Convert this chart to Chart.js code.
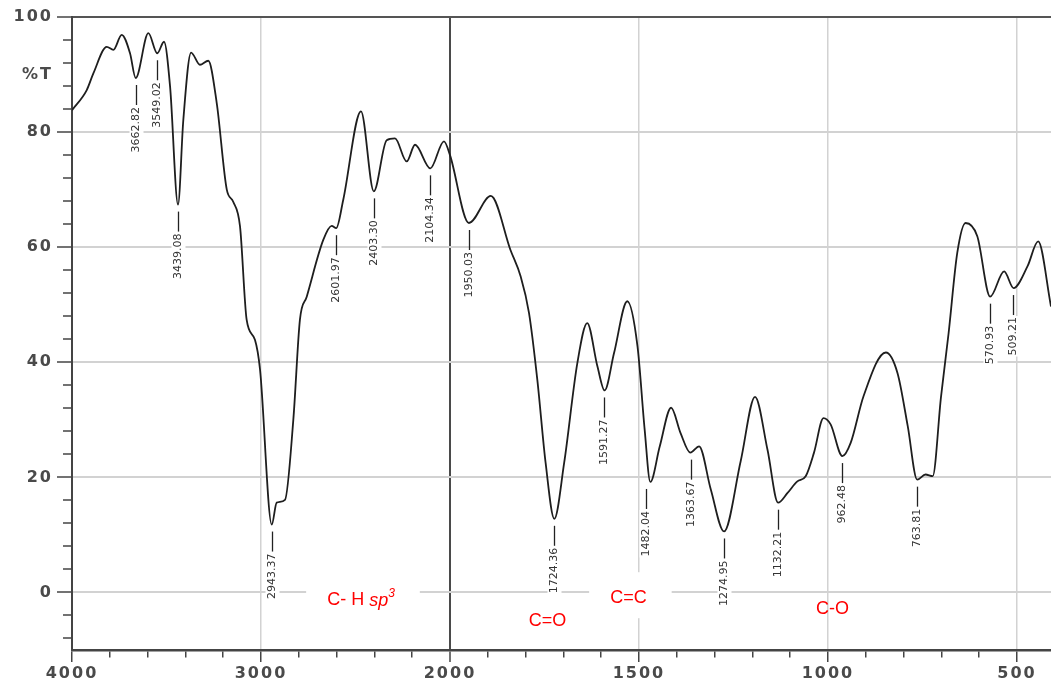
<!DOCTYPE html>
<html>
<head>
<meta charset="utf-8">
<script src="https://cdn.jsdelivr.net/npm/chart.js@4.4.1/dist/chart.umd.min.js"></script>
<style>
  html, body { margin: 0; padding: 0; background: #fff; }
  #wadah { width: 1051px; height: 688px; position: relative; }
</style>
</head>
<body>
<div id="wadah"><canvas id="chartIR"></canvas></div>
<script>
// data spektrum IR (bilangan gelombang cm-1 vs %T)
const bilanganGelombang = [
  4000, 3922, 3887, 3816, 3781, 3737, 3693, 3663, 3596, 3549, 3513, 3481, 3439, 3411,
  3370, 3323, 3279, 3234, 3181, 3147, 3111, 3076, 3032, 3005, 2943, 2917, 2873, 2829,
  2794, 2758, 2670, 2626, 2602, 2565, 2471, 2403, 2335, 2291, 2229, 2185, 2104, 2032,
  2000, 1950, 1892, 1840, 1813, 1791, 1769, 1747, 1724, 1698, 1663, 1637, 1610, 1591,
  1566, 1531, 1504, 1485, 1470, 1445, 1415, 1390, 1364, 1341, 1310, 1275, 1231, 1193,
  1160, 1132, 1107, 1081, 1059, 1037, 1012, 993, 962, 940, 906, 847, 816, 789, 764,
  742, 723, 701, 681, 658, 636, 605, 571, 534, 509, 472, 444, 410
];
const transmitansi = [
  83.8, 87.3, 90.2, 94.8, 94.3, 96.9, 93.7, 89.4, 97.2, 93.7, 95.7, 87.9, 67.4, 82.1,
  93.8, 91.7, 92.4, 85.0, 70.0, 67.9, 63.6, 47.4, 43.9, 38.7, 11.8, 15.6, 16.1, 30.0,
  47.4, 51.4, 61.3, 63.7, 63.3, 68.2, 83.6, 69.7, 78.6, 78.9, 74.9, 77.8, 73.7, 78.4,
  76.0, 64.2, 68.9, 59.5, 54.9, 48.6, 37.0, 22.5, 12.8, 22.5, 39.9, 46.8, 39.3, 35.1,
  41.6, 50.6, 42.8, 28.3, 19.2, 25.4, 32.1, 27.7, 24.3, 25.4, 17.9, 10.6, 22.8, 34.0,
  24.8, 15.6, 17.3, 19.3, 20.2, 24.3, 30.3, 29.2, 23.7, 26.0, 34.1, 41.7, 38.1, 28.9, 19.6,
  20.5, 20.2, 34.0, 45.0, 59.0, 64.2, 61.9, 51.4, 55.8, 52.9, 56.7, 61.0, 49.7
];

// label puncak serapan
const puncakGelombang = [
  3662.82, 3549.02, 3439.08, 2943.37, 2601.97, 2403.30, 2104.34, 1950.03, 1724.36,
  1591.27, 1482.04, 1363.67, 1274.95, 1132.21, 962.48, 763.81, 570.93, 509.21
];
const puncakT = [
  89.4, 93.7, 67.4, 11.8, 63.3, 69.7, 73.7, 64.2, 12.8,
  35.1, 19.2, 24.3, 10.6, 15.6, 23.7, 19.6, 51.4, 52.9
];

// tick sumbu
const tickUtamaX = [4000, 3000, 2000, 1500, 1000, 500];
const tickUtamaY = [0, 20, 40, 60, 80, 100];

// gugus fungsi (teks merah)
const labelGugus = ['C- H sp3', 'C=O', 'C=C', 'C-O'];
const gelombangGugus = [2471, 1742, 1528, 988];
const tinggiGugus = [-1.4, -5.0, -1.0, -2.8];

// skala x patah di 2000: kiri 1000 cm-1 per satuan, kanan 500 cm-1 per satuan
function keSumbu(w) {
  return w >= 2000 ? (4000 - w) / 1000 : 2 + (2000 - w) / 500;
}
function dariSumbu(u) {
  return Math.round(u <= 2 ? 4000 - u * 1000 : 2000 - (u - 2) * 500);
}

document.addEventListener('DOMContentLoaded', () => {
  if (typeof Chart === 'undefined') return;

  const warnaGaris = '#1e1e1e';
  const warnaSumbu = '#444';
  const warnaGrid = '#d2d2d2';

  // semua tick x (utama + kecil)
  const daftarTickX = tickUtamaX.slice();
  for (let w = 3800; w > 2000; w -= 200) if (w !== 3000) daftarTickX.push(w);
  for (let w = 1900; w > 410; w -= 100) if (w % 500 !== 0) daftarTickX.push(w);

  // semua tick y tiap 4, plus 90 buat tulisan %T
  const daftarTickY = [90];
  for (let v = -8; v <= 100; v += 4) daftarTickY.push(v);

  const titik = bilanganGelombang.map((w, i) => ({ x: keSumbu(w), y: transmitansi[i] }));

  // huruf angka sumbu dibikin agak renggang biar mirip aslinya
  const pluginRenggang = {
    id: 'renggang',
    beforeDraw(chart) { chart.ctx.letterSpacing = '2px'; },
    beforeDatasetsDraw(chart) { chart.ctx.letterSpacing = '0px'; }
  };

  const pluginLabel = {
    id: 'labelPuncak',
    afterDatasetsDraw(chart) {
      const { ctx, scales: { x, y } } = chart;
      ctx.save();

      // label angka puncak, diputar vertikal
      ctx.font = "11px 'DejaVu Sans'";
      ctx.textBaseline = 'middle';
      ctx.textAlign = 'right';
      puncakGelombang.forEach((w, i) => {
        const px = Math.round(x.getPixelForValue(keSumbu(w))) + 0.5;
        const py = y.getPixelForValue(puncakT[i]);
        ctx.strokeStyle = '#222';
        ctx.lineWidth = 1.3;
        ctx.beginPath();
        ctx.moveTo(px, py + 7);
        ctx.lineTo(px, py + 27);
        ctx.stroke();

        const teks = w.toFixed(2);
        const lebar = ctx.measureText(teks).width;
        ctx.save();
        ctx.translate(px, py + 29);
        ctx.rotate(-Math.PI / 2);
        ctx.fillStyle = '#fff';
        ctx.fillRect(-lebar - 1, -7, lebar + 2, 14);
        ctx.fillStyle = '#333';
        ctx.fillText(teks, 0, 0);
        ctx.restore();
      });

      // teks gugus fungsi warna merah
      ctx.textAlign = 'left';
      labelGugus.forEach((lbl, i) => {
        const cx = x.getPixelForValue(keSumbu(gelombangGugus[i]));
        const cy = y.getPixelForValue(tinggiGugus[i]);
        let bagian = [{ t: lbl, f: "18px 'Liberation Sans'", dy: 0 }];
        if (lbl.endsWith('sp3')) {
          bagian = [
            { t: lbl.slice(0, -3), f: "18px 'Liberation Sans'", dy: 0 },
            { t: 'sp', f: "italic 18px 'Liberation Sans'", dy: 0 },
            { t: '3', f: "italic 12px 'Liberation Sans'", dy: -7 }
          ];
        }
        let total = 0;
        bagian.forEach(b => { ctx.font = b.f; b.w = ctx.measureText(b.t).width; total += b.w; });
        // kotak putih nutup grid (cuma buat C-H sama C=C)
        if (i === 0 || i === 2) {
          ctx.fillStyle = '#fff';
          ctx.fillRect(cx - total / 2 - 21, cy - 26, total + 46, 46);
        }
        let posX = cx - total / 2;
        ctx.fillStyle = '#ff0000';
        bagian.forEach(b => {
          ctx.font = b.f;
          ctx.fillText(b.t, posX, cy + b.dy);
          posX += b.w;
        });
      });
      ctx.restore();
    }
  };

  const konteks = document.getElementById('chartIR').getContext('2d');
  new Chart(konteks, {
    type: 'line',
    data: {
      datasets: [{
        data: titik,
        borderColor: warnaGaris,
        borderWidth: 1.8,
        pointRadius: 0,
        cubicInterpolationMode: 'monotone',
        fill: false
      }]
    },
    options: {
      responsive: true,
      maintainAspectRatio: false,
      animation: false,
      layout: { padding: { top: 17, right: 0, bottom: 0, left: 0 } },
      plugins: { legend: { display: false }, tooltip: { enabled: false } },
      scales: {
        x: {
          type: 'linear',
          min: 0,
          max: keSumbu(410),
          afterBuildTicks: skala => {
            skala.ticks = daftarTickX.map(w => ({ value: keSumbu(w) })).sort((a, b) => a.value - b.value);
          },
          afterFit: skala => { skala.height = 38; },
          ticks: {
            autoSkip: false,
            maxRotation: 0,
            minRotation: 0,
            padding: 2,
            color: '#4a4a4a',
            font: { family: "'DejaVu Sans'", size: 16, weight: 'bold' },
            callback: nilai => {
              const w = dariSumbu(nilai);
              return tickUtamaX.includes(w) ? String(w) : '';
            }
          },
          grid: {
            color: c => {
              if (!c.tick) return 'transparent';
              const w = dariSumbu(c.tick.value);
              if (w === 2000) return '#4a4a4a';
              if (w === 4000) return 'transparent';
              return tickUtamaX.includes(w) ? warnaGrid : 'transparent';
            },
            lineWidth: c => (c.tick && dariSumbu(c.tick.value) === 2000 ? 2 : 1.5),
            tickLength: 12,
            tickColor: warnaSumbu,
            tickWidth: 1.5,
            tickBorderDash: c => (c.tick && tickUtamaX.includes(dariSumbu(c.tick.value)) ? [] : [6, 40])
          },
          border: { color: warnaSumbu, width: 2.5 }
        },
        y: {
          min: -10,
          max: 100,
          afterBuildTicks: skala => {
            skala.ticks = daftarTickY.map(v => ({ value: v })).sort((a, b) => a.value - b.value);
          },
          afterFit: skala => { skala.width = 72; },
          ticks: {
            autoSkip: false,
            padding: 4,
            color: '#4a4a4a',
            font: { family: "'DejaVu Sans'", size: 16, weight: 'bold' },
            callback: nilai => (nilai === 90 ? '%T' : (tickUtamaY.includes(nilai) ? String(nilai) : ''))
          },
          grid: {
            color: c => {
              if (!c.tick) return 'transparent';
              const v = c.tick.value;
              if (v === 100) return '#555';
              return tickUtamaY.includes(v) ? warnaGrid : 'transparent';
            },
            lineWidth: 2,
            tickLength: 15,
            tickColor: c => (c.tick && c.tick.value === 90 ? 'transparent' : warnaSumbu),
            tickWidth: 1.5,
            // tick kecil: garis mulai dari ujung luar, jadi dikasih jeda dulu biar nempel ke sumbu
            tickBorderDash: c => (c.tick && tickUtamaY.includes(c.tick.value) ? [] : [0, 6, 9, 40])
          },
          border: { color: warnaSumbu, width: 2 }
        }
      }
    },
    plugins: [pluginRenggang, pluginLabel]
  });
});
</script>
</body>
</html>
